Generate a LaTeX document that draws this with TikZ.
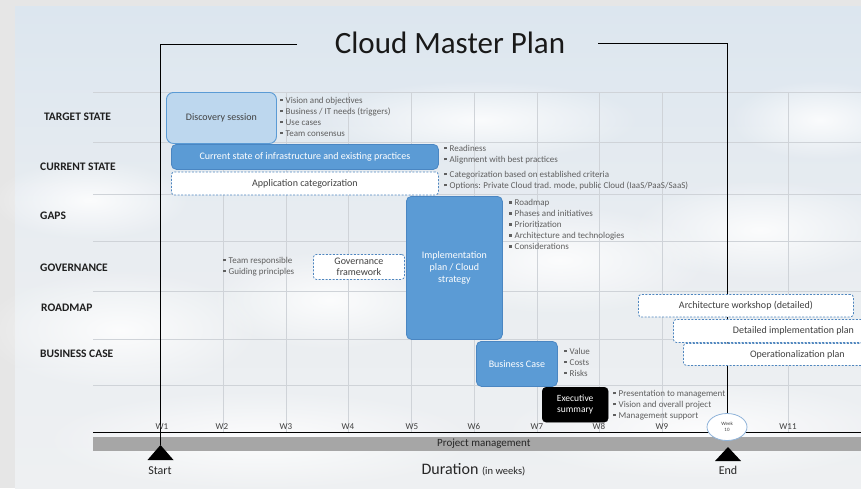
\documentclass[tikz,border=0pt]{standalone}
\usepackage{fontspec}
\setmainfont{Carlito}
\usetikzlibrary{shapes.geometric,fadings}
\definecolor{accent}{HTML}{5B9BD5}
\definecolor{accentdk}{HTML}{4A86C2}
\definecolor{lightfill}{HTML}{BDD7EE}
\definecolor{dashcol}{HTML}{4F86BF}
\definecolor{gridcol}{HTML}{CFD3D8}
\definecolor{bulgray}{HTML}{5F5F5F}
\definecolor{txtdark}{HTML}{404040}
\definecolor{barcol}{HTML}{A6A6A6}
\definecolor{skytop}{HTML}{DCE6EF}
\definecolor{skymid}{HTML}{E9EDF1}
\definecolor{skybot}{HTML}{EEF0F2}
\definecolor{outergray}{HTML}{E6E6E6}
\definecolor{wkborder}{HTML}{8FB3D9}
\newcommand{\bl}{\textcolor{bulgray}{\rule[0.22em]{2.3pt}{2.3pt}}\hspace{3.2pt}}
\tikzset{
  grid/.style={draw=gridcol, line width=0.7pt},
  boxbase/.style={anchor=north west, inner sep=1pt, align=center, font=\fontsize{10}{12}\selectfont},
  bluebox/.style={boxbase, fill=accent, draw=accentdk, line width=0.8pt, rounded corners=5pt, text=white},
  lightbox/.style={boxbase, fill=lightfill, draw=accent, line width=0.9pt, rounded corners=7pt, text=txtdark},
  dashbox/.style={boxbase, fill=white, draw=dashcol, line width=0.8pt, dash pattern=on 2pt off 1.5pt, rounded corners=3pt, text=txtdark},
  blackbox/.style={boxbase, fill=black, draw=black, rounded corners=4pt, text=white, font=\fontsize{9.5}{11}\selectfont},
  bullets/.style={anchor=west, inner sep=0pt, align=left, text=bulgray, font=\fontsize{9}{11}\selectfont},
  rowlabel/.style={anchor=west, inner sep=0pt, font=\fontsize{11.5}{13}\selectfont\bfseries, text=black!88},
  weeklabel/.style={anchor=base, inner sep=0pt, font=\fontsize{9}{10}\selectfont, text=txtdark},
  cloud/.style={fill=white, path fading=fuzzy},
}
\tikzfading[name=fuzzy, inner color=transparent!15, outer color=transparent!100]
\begin{document}
\begin{tikzpicture}[x=1pt,y=-1pt]
\useasboundingbox (0,0) rectangle (861,488);
\clip (0,0) rectangle (861,488);
% background
\fill[outergray] (0,0) rectangle (861,488);
\shade[top color=skytop, bottom color=skybot, middle color=skymid] (15,6) rectangle (861,488);
% clouds
\fill[cloud] (120,330) ellipse (140 and 60);
\fill[cloud] (330,300) ellipse (120 and 50);
\fill[cloud] (560,260) ellipse (150 and 55);
\fill[cloud] (760,230) ellipse (130 and 50);
\fill[cloud] (260,440) ellipse (220 and 50);
\fill[cloud] (700,430) ellipse (200 and 50);
\fill[cloud] (90,200) ellipse (100 and 40);
\fill[cloud] (820,120) ellipse (90 and 40);
\fill[cloud] (480,120) ellipse (160 and 40);
% grid
\foreach \y in {92,142,194,241,291,339,385} \draw[grid] (93,\y) -- (861,\y);
\foreach \x in {223,286,348,411,474,537,599,662,788} \draw[grid] (\x,92) -- (\x,432);
% title and frame
\node[anchor=base, inner sep=0pt, font=\fontsize{31}{31}\selectfont, text=black!90] (title) at (450,53) {Cloud Master Plan};
\coordinate (tl) at (297,44);
\coordinate (tr) at (598,43);
\coordinate (start) at (160.5,445);
\coordinate (endpt) at (728,447);
% row labels
\node[rowlabel] (r1) at (44,117) {TARGET STATE};
\node[rowlabel] (r2) at (40,167) {CURRENT STATE};
\node[rowlabel] (r3) at (40,216) {GAPS};
\node[rowlabel] (r4) at (40,268) {GOVERNANCE};
\node[rowlabel] (r5) at (41,308) {ROADMAP};
\node[rowlabel] (r6) at (40,354) {BUSINESS CASE};
% axis
\draw[black, line width=0.8pt] (93,432) -- (861,432);
\fill[barcol] (93,437) rectangle (861,451);
\node[anchor=west, inner sep=0pt, font=\fontsize{11}{12}\selectfont, text=black!85] (pm) at (437,444) {Project management};
% frame lines
\draw[black, line width=0.8pt] (tl) -| (start);
\node[ellipse, draw=wkborder, fill=white, line width=0.8pt, minimum width=40, minimum height=27, inner sep=0pt, align=center, font=\fontsize{5}{5.5}\selectfont, text=txtdark] (wk10) at (727,427) {Week\\10};
\draw[black, line width=0.8pt] (tr) -| (wk10.north);
\fill[black] (start) -- ++(13,15) -- ++(-26,0) -- cycle;
\fill[black] (endpt) -- ++(13,14) -- ++(-26,0) -- cycle;
\node[anchor=base, inner sep=0pt, font=\fontsize{12}{14}\selectfont, text=black!85] (starttxt) at (160,474) {Start};
\node[anchor=base, inner sep=0pt, font=\fontsize{12}{14}\selectfont, text=black!85] (endtxt) at (728,474) {End};
\node[anchor=base, inner sep=0pt, text=black!85] (dur) at (473.5,474) {\fontsize{16}{18}\selectfont Duration \fontsize{10.5}{12}\selectfont(in weeks)};
% week labels
\foreach \x/\w in {162/W1,222/W2,286/W3,348/W4,412/W5,474/W6,537/W7,599/W8,662/W9,788/W11}
  \node[weeklabel] (wl\w) at (\x,429) {\w};
% boxes
\node[lightbox, minimum width=110, minimum height=51] (disc) at (166,92) {Discovery session};
\node[bluebox, minimum width=267, minimum height=25] (cur) at (171,144) {Current state of infrastructure and existing practices};
\node[dashbox, minimum width=267, minimum height=23] (app) at (171,171.5) {Application categorization};
\node[bluebox, minimum width=96, minimum height=143] (impl) at (406,196) {Implementation\\plan / Cloud\\strategy};
\node[dashbox, minimum width=91, minimum height=25, font=\fontsize{10}{11}\selectfont] (gov) at (313,254) {Governance\\framework};
\node[bluebox, minimum width=81, minimum height=45] (bc) at (476,341) {Business Case};
\node[blackbox, minimum width=66, minimum height=35] (exec) at (542,387) {Executive\\summary};
\node[dashbox, minimum width=215, minimum height=22.5] (arch) at (638,294) {Architecture workshop (detailed)};
\node[dashbox, minimum width=240, minimum height=23] (dip) at (673,319) {Detailed implementation plan};
\node[dashbox, minimum width=228, minimum height=22] (op) at (683,343) {Operationalization plan};
% bullet lists
\node[bullets] (bdisc) at (280,116.5) {\bl Vision and objectives\\ \bl Business / IT needs (triggers)\\ \bl Use cases\\ \bl Team consensus};
\node[bullets] (bcur) at (444,154.5) {\bl Readiness\\ \bl Alignment with best practices};
\node[bullets] (bapp) at (444,180.5) {\bl Categorization based on established criteria\\ \bl Options: Private Cloud trad. mode, public Cloud (IaaS/PaaS/SaaS)};
\node[bullets] (bimpl) at (509,224.5) {\bl Roadmap\\ \bl Phases and initiatives\\ \bl Prioritization\\ \bl Architecture and technologies\\ \bl Considerations};
\node[bullets] (bgov) at (223,266.5) {\bl Team responsible\\ \bl Guiding principles};
\node[bullets] (bbc) at (564,362) {\bl Value\\ \bl Costs\\ \bl Risks};
\node[bullets] (bexec) at (613,405) {\bl Presentation to management\\ \bl Vision and overall project\\ \bl Management support};
\end{tikzpicture}
\end{document}
